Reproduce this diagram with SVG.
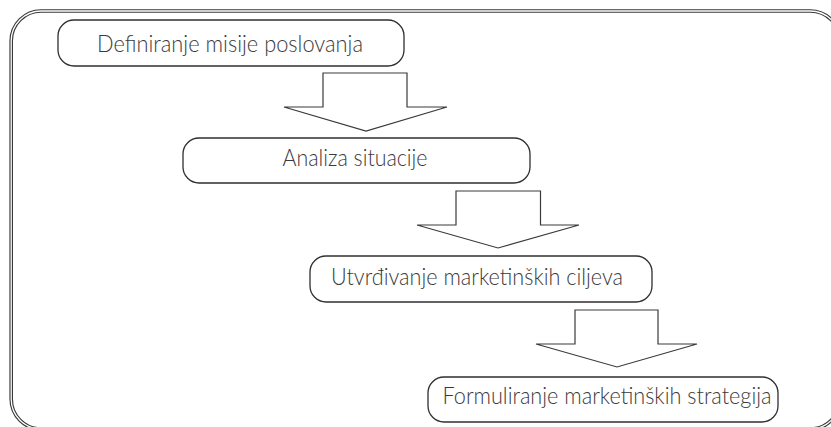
<svg xmlns="http://www.w3.org/2000/svg" width="831" height="427" viewBox="0 0 831 427">
<style>
.frame-outer{fill:none;stroke:#3a3a3a;stroke-width:3.6}
.frame-inner{fill:none;stroke:#ffffff;stroke-width:1.3}
.node rect{fill:#ffffff;stroke:#2f2f2f;stroke-width:1.3}
.node text{font-family:Lato,"Open Sans","Liberation Sans",sans-serif;font-weight:300;font-size:23px;fill:#3a3a3a;text-anchor:middle}
.arrow{fill:#ffffff;stroke:#3a3a3a;stroke-width:1.2;stroke-linejoin:miter}
</style>
<rect width="831" height="427" fill="#ffffff"/>
<g id="frame">
<rect class="frame-outer" x="11.2" y="11" width="829" height="418" rx="30" ry="30"/>
<rect class="frame-inner" x="11.2" y="11" width="829" height="418" rx="30" ry="30"/>
</g>
<g id="connectors">
<polygon class="arrow" points="323,73 407,73 407,107 447,107 366,131 284,107 323,107"/>
<polygon class="arrow" points="456,191 540.5,191 540.5,225 579,225 498,248 417,225 456,225"/>
<polygon class="arrow" points="575,310 658,310 658,344 697,344 617,367 536,344 575,344"/>
</g>
<g id="node1" class="node">
<rect x="58" y="20" width="346" height="46" rx="16" ry="16"/>
<text x="230" y="52" textLength="266" lengthAdjust="spacingAndGlyphs">Definiranje misije poslovanja</text>
</g>
<g id="node2" class="node">
<rect x="183" y="138" width="347" height="45" rx="16" ry="16"/>
<text x="355" y="166" textLength="145" lengthAdjust="spacingAndGlyphs">Analiza situacije</text>
</g>
<g id="node3" class="node">
<rect x="310" y="256" width="342" height="46" rx="16" ry="16"/>
<text x="477" y="285" textLength="292" lengthAdjust="spacingAndGlyphs">Utvrđivanje marketinških ciljeva</text>
</g>
<g id="node4" class="node">
<rect x="428" y="377" width="350" height="45" rx="16" ry="16"/>
<text x="607" y="404" textLength="329" lengthAdjust="spacingAndGlyphs">Formuliranje marketinških strategija</text>
</g>
</svg>
